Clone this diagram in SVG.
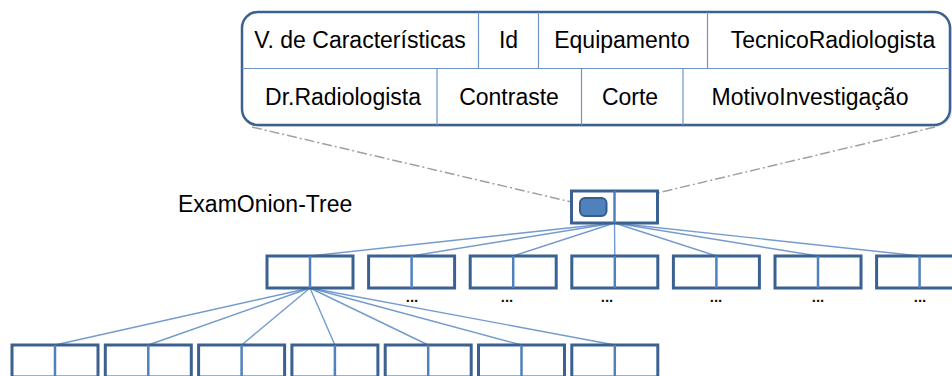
<svg xmlns="http://www.w3.org/2000/svg" width="952" height="376" viewBox="0 0 952 376">
<style>
  .txt { font-family: "Liberation Sans", Arial, sans-serif; font-size: 23px; fill: #000; text-anchor: middle; }
  .lbl { font-family: "Liberation Sans", Arial, sans-serif; font-size: 23px; fill: #000; }
  .dots { font-family: "Liberation Sans", Arial, sans-serif; font-size: 15px; font-weight: bold; fill: #111; text-anchor: middle; }
  .box { fill: #fff; stroke: #3b6190; stroke-width: 3; }
  .div { stroke: #4f81bd; stroke-width: 2.5; }
  .cell { stroke: #6f95c6; stroke-width: 1.2; fill: none; }
  .conn { stroke: #5b89c4; stroke-width: 1.4; stroke-opacity: 0.85; fill: none; }
  .dash { stroke: #a0a0a0; stroke-width: 1.5; stroke-dasharray: 10 3 2 3; fill: none; }
</style>
<defs>
  <g id="node">
    <rect class="box" x="0" y="0" width="86" height="32"/>
    <line class="div" x1="43" y1="0" x2="43" y2="32"/>
  </g>
</defs>

<g id="connectors">
  <line class="dash" x1="252" y1="127" x2="580" y2="204"/>
  <line class="dash" x1="935" y1="127" x2="607" y2="205"/>
  <line class="conn" x1="614.5" y1="223" x2="310" y2="256"/>
  <line class="conn" x1="614.5" y1="223" x2="411.6" y2="256"/>
  <line class="conn" x1="614.5" y1="223" x2="513.2" y2="256"/>
  <line class="conn" x1="614.5" y1="223" x2="614.8" y2="256"/>
  <line class="conn" x1="614.5" y1="223" x2="716.4" y2="256"/>
  <line class="conn" x1="614.5" y1="223" x2="818" y2="256"/>
  <line class="conn" x1="614.5" y1="223" x2="919.6" y2="256"/>
  <line class="conn" x1="310" y1="288" x2="55" y2="345"/>
  <line class="conn" x1="310" y1="288" x2="148.3" y2="345"/>
  <line class="conn" x1="310" y1="288" x2="241.6" y2="345"/>
  <line class="conn" x1="310" y1="288" x2="334.9" y2="345"/>
  <line class="conn" x1="310" y1="288" x2="428.2" y2="345"/>
  <line class="conn" x1="310" y1="288" x2="521.5" y2="345"/>
  <line class="conn" x1="310" y1="288" x2="614.8" y2="345"/>
</g>

<g id="feature-table">
  <rect x="244" y="14" width="708" height="113" rx="16" fill="#d9d9d9" opacity="0.6"/>
  <rect x="242" y="12" width="708" height="113" rx="16" fill="#fff" stroke="#3b6190" stroke-width="2.5"/>
  <line class="cell" x1="242" y1="68.5" x2="950" y2="68.5"/>
  <line class="cell" x1="478.5" y1="12" x2="478.5" y2="68.5"/>
  <line class="cell" x1="538.5" y1="12" x2="538.5" y2="68.5"/>
  <line class="cell" x1="707.5" y1="12" x2="707.5" y2="68.5"/>
  <line class="cell" x1="437" y1="68.5" x2="437" y2="125"/>
  <line class="cell" x1="581.5" y1="68.5" x2="581.5" y2="125"/>
  <line class="cell" x1="683" y1="68.5" x2="683" y2="125"/>
  <text class="txt" x="360" y="48">V. de Características</text>
  <text class="txt" x="508.5" y="48">Id</text>
  <text class="txt" x="622" y="48">Equipamento</text>
  <text class="txt" x="833" y="48">TecnicoRadiologista</text>
  <text class="txt" x="343" y="104.5">Dr.Radiologista</text>
  <text class="txt" x="509" y="104.5">Contraste</text>
  <text class="txt" x="630" y="104.5">Corte</text>
  <text class="txt" x="810" y="104.5">MotivoInvestigação</text>
</g>

<g id="tree-label">
  <text class="lbl" x="178" y="211.5">ExamOnion-Tree</text>
</g>

<g id="root">
  <use href="#node" x="571.5" y="191"/>
  <rect x="580" y="198" width="26.5" height="18" rx="5" fill="#4f81bd" stroke="#385d8a" stroke-width="2"/>
</g>

<g id="l1-1"><use href="#node" x="267" y="256"/></g>
<g id="l1-2"><use href="#node" x="368.6" y="256"/><text class="dots" x="412" y="302">...</text></g>
<g id="l1-3"><use href="#node" x="470.2" y="256"/><text class="dots" x="507" y="302">...</text></g>
<g id="l1-4"><use href="#node" x="571.8" y="256"/><text class="dots" x="607" y="302">...</text></g>
<g id="l1-5"><use href="#node" x="673.4" y="256"/><text class="dots" x="716" y="302">...</text></g>
<g id="l1-6"><use href="#node" x="775" y="256"/><text class="dots" x="818" y="302">...</text></g>
<g id="l1-7"><use href="#node" x="876.6" y="256"/><text class="dots" x="920" y="302">...</text></g>

<g id="l2-1"><use href="#node" x="12" y="345"/></g>
<g id="l2-2"><use href="#node" x="105.3" y="345"/></g>
<g id="l2-3"><use href="#node" x="198.6" y="345"/></g>
<g id="l2-4"><use href="#node" x="291.9" y="345"/></g>
<g id="l2-5"><use href="#node" x="385.2" y="345"/></g>
<g id="l2-6"><use href="#node" x="478.5" y="345"/></g>
<g id="l2-7"><use href="#node" x="571.8" y="345"/></g>
</svg>
